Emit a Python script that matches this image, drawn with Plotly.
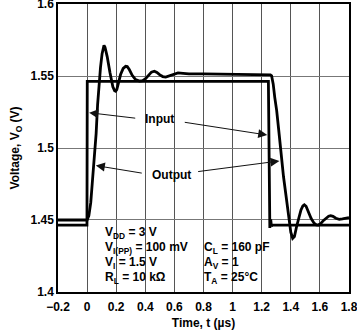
import plotly.graph_objects as go

# Time axis in microseconds, voltages in volts
input_t = [-0.2, -0.001, 0.001, 1.246, 1.256, 1.262, 1.267, 1.272, 1.8]
input_v = [1.4465, 1.4465, 1.5463, 1.5463, 1.4445, 1.4505, 1.4455, 1.4465, 1.4465]

output_t = [-0.2, 0.0, 0.012, 0.025, 0.035, 0.05, 0.062, 0.072, 0.082, 0.092,
            0.103, 0.111, 0.116, 0.123, 0.138, 0.157, 0.177, 0.189, 0.196,
            0.204, 0.216, 0.23, 0.248, 0.265, 0.276, 0.29, 0.31, 0.333, 0.36,
            0.382, 0.4, 0.42, 0.442, 0.462, 0.48, 0.5, 0.52, 0.54, 0.56, 0.59,
            0.625, 0.66, 0.7, 0.8, 1.0, 1.2, 1.26, 1.268, 1.274, 1.279, 1.29,
            1.303, 1.317, 1.33, 1.35, 1.367, 1.386, 1.4, 1.413, 1.425, 1.44,
            1.455, 1.47, 1.483, 1.493, 1.505, 1.52, 1.54, 1.56, 1.575, 1.589,
            1.605, 1.625, 1.645, 1.66, 1.674, 1.69, 1.71, 1.733, 1.755, 1.78, 1.8]
output_v = [1.45, 1.45, 1.453, 1.462, 1.475, 1.493, 1.51, 1.53, 1.545, 1.556,
            1.5655, 1.5700, 1.5713, 1.5700, 1.5635, 1.5525, 1.5425, 1.5398, 1.5394,
            1.5405, 1.5455, 1.551, 1.5553, 1.5567, 1.5565, 1.5545, 1.5505, 1.5475, 1.5465,
            1.5467, 1.548, 1.5505, 1.5527, 1.5533, 1.5525, 1.5508, 1.5496, 1.5493, 1.5500, 1.5514,
            1.5521, 1.5518, 1.5515, 1.5515, 1.5513, 1.5510, 1.5508, 1.5502, 1.548, 1.5445, 1.535,
            1.526, 1.5125, 1.4986, 1.48, 1.467, 1.45, 1.4415, 1.4373, 1.4385, 1.4455,
            1.452, 1.457, 1.4598, 1.4606, 1.4595, 1.456, 1.451, 1.4478, 1.4466, 1.4465,
            1.4475, 1.4497, 1.4515, 1.4526, 1.453, 1.4525, 1.4512, 1.4505, 1.4508, 1.4514, 1.4516]

x_ticks = [-0.2, 0, 0.2, 0.4, 0.6, 0.8, 1.0, 1.2, 1.4, 1.6, 1.8]
x_labels = ["\u22120.2", "0", "0.2", "0.4", "0.6", "0.8", "1", "1.2", "1.4", "1.6", "1.8"]
y_ticks = [1.4, 1.45, 1.5, 1.55, 1.6]
y_labels = ["1.4", "1.45", "1.5", "1.55", "1.6"]

conditions_left = ["V<sub>DD</sub> = 3 V", "V<sub>I(PP)</sub> = 100 mV",
                   "V<sub>I</sub> = 1.5 V", "R<sub>L</sub> = 10 k\u03a9"]
conditions_right = ["C<sub>L</sub> = 160 pF", "A<sub>V</sub> = 1", "T<sub>A</sub> = 25\u00b0C"]

FONT = "Liberation Sans, Arial, sans-serif"
EPS = 1e-4

fig = go.Figure()
fig.add_trace(go.Scatter(x=input_t, y=input_v, mode="lines",
                         line=dict(color="black", width=2.8), hoverinfo="skip"))
fig.add_trace(go.Scatter(x=output_t, y=output_v, mode="lines",
                         line=dict(color="black", width=2.8), hoverinfo="skip"))

annotations = []
# Curve labels
annotations.append(dict(x=0.498, y=1.5201, text="Input", showarrow=False,
                        xanchor="center", yanchor="middle"))
annotations.append(dict(x=0.581, y=1.4812, text="Output", showarrow=False,
                        xanchor="center", yanchor="middle"))

# Leader arrows: (tail_t, tail_v, head_t, head_v)
arrows = [
    (0.341, 1.5206, 0.014, 1.5245),
    (0.661, 1.5180, 1.238, 1.5090),
    (0.386, 1.4824, 0.060, 1.4878),
    (0.753, 1.4835, 1.322, 1.4910),
]
for tt, tv, ht, hv in arrows:
    annotations.append(dict(x=ht, y=hv, ax=tt, ay=tv, axref="x", ayref="y",
                            xref="x", yref="y", text="", showarrow=True,
                            arrowhead=2, arrowsize=1.8, arrowwidth=1.0,
                            arrowcolor="#111111", standoff=0))

# Test-condition block
row_v = [1.4411, 1.4306, 1.4201, 1.4097]
for i, txt in enumerate(conditions_left):
    annotations.append(dict(x=0.111, y=row_v[i], text=txt, showarrow=False,
                            xanchor="left", yanchor="middle"))
for i, txt in enumerate(conditions_right):
    annotations.append(dict(x=0.788, y=row_v[i + 1], text=txt, showarrow=False,
                            xanchor="left", yanchor="middle"))

fig.update_layout(
    width=357, height=331,
    margin=dict(l=58, r=8, t=4, b=39, autoexpand=False),
    paper_bgcolor="white", plot_bgcolor="white",
    showlegend=False,
    font=dict(family=FONT, size=12, color="black", weight="bold"),
    annotations=annotations,
)
fig.update_xaxes(
    range=[-0.2 - EPS, 1.8 + EPS], tickvals=x_ticks, ticktext=x_labels,
    showgrid=True, gridcolor="#555555", gridwidth=1,
    showline=True, linecolor="black", linewidth=1.5, mirror=True,
    zeroline=False, ticks="outside", ticklen=3, tickcolor="rgba(0,0,0,0)",
    ticklabeloverflow="allow", automargin=False,
    tickfont=dict(family=FONT, size=12, color="black", weight="bold"),
    title=dict(text="Time, t (\u00b5s)", standoff=5,
               font=dict(family=FONT, size=12, color="black", weight="bold")),
)
fig.update_yaxes(
    range=[1.4 - EPS / 10, 1.6 + EPS / 10], tickvals=y_ticks, ticktext=y_labels,
    showgrid=True, gridcolor="#777777", gridwidth=1,
    showline=True, linecolor="black", linewidth=1.5, mirror=True,
    zeroline=False, ticks="",
    ticklabeloverflow="allow", automargin=False,
    tickfont=dict(family=FONT, size=12, color="black", weight="bold"),
    title=dict(text="Voltage, V<sub>O</sub> (V)", standoff=8,
               font=dict(family=FONT, size=12, color="black", weight="bold")),
)

fig.write_html("out.html")
